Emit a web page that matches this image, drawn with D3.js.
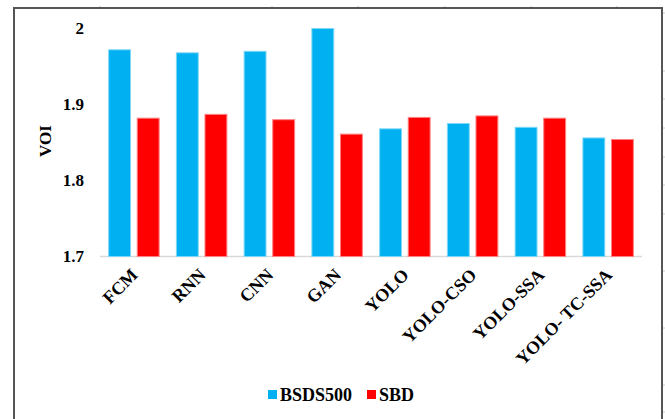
<!DOCTYPE html>
<html>
<head>
<meta charset="utf-8">
<script src="https://cdn.jsdelivr.net/npm/d3@7"></script>
<style>
  html, body { margin: 0; padding: 0; background: #fff; }
  svg { display: block; }
  text { font-family: "Liberation Serif", serif; font-weight: bold; fill: #000; }
</style>
</head>
<body>
<svg id="chart" width="665" height="419"></svg>
<script>
// VOI scores per segmentation method on two datasets
const methods = ["FCM", "RNN", "CNN", "GAN", "YOLO", "YOLO-CSO", "YOLO-SSA", "YOLO- TC-SSA"];
const seriesNames = ["BSDS500", "SBD"];
const bsds500 = [1.972, 1.968, 1.970, 2.000, 1.868, 1.875, 1.870, 1.856];
const sbd     = [1.882, 1.887, 1.880, 1.861, 1.883, 1.885, 1.882, 1.854];
const yTicks  = [1.7, 1.8, 1.9, 2];

const fills   = { "BSDS500": "#00B0F0", "SBD": "#FF0000" };
const strokes = { "BSDS500": "#7FD7F7", "SBD": "#FF8080" };

const svg = d3.select("#chart");

// outer frame (left, top, right edges)
svg.append("path")
  .attr("d", "M14,419 L14,8 L662,8 L662,419")
  .attr("fill", "none")
  .attr("stroke", "#555")
  .attr("stroke-width", 2);

// faint marks along the outside edges
[100, 272, 358, 445, 531, 617].forEach(x => {
  svg.append("line").attr("x1", x).attr("x2", x).attr("y1", 6).attr("y2", 7)
    .attr("stroke", "#bbb").attr("stroke-width", 1);
});
[13, 71, 99, 128, 157, 185, 214, 271, 328, 385, 412].forEach(y => {
  svg.append("line").attr("x1", 663).attr("x2", 665).attr("y1", y).attr("y2", y)
    .attr("stroke", "#ccc").attr("stroke-width", 1);
});

const x0 = d3.scaleBand().domain(methods).range([100, 642]).paddingInner(0.24).paddingOuter(0.12);
const x1 = d3.scaleBand().domain(seriesNames).range([0, x0.bandwidth()]).paddingInner(0.2);
const y = d3.scaleLinear().domain([1.7, 2.0]).range([256.5, 28.5]);

// baseline
svg.append("line")
  .attr("x1", 100).attr("x2", 642)
  .attr("y1", y(1.7)).attr("y2", y(1.7))
  .attr("stroke", "#d9d9d9").attr("stroke-width", 1.5);

// y-axis tick labels
const yAxis = d3.axisLeft(y).tickValues(yTicks).tickSize(0).tickPadding(0)
  .tickFormat(d => d3.format("")(d));
const gy = svg.append("g").attr("transform", "translate(84,0)").call(yAxis);
gy.select(".domain").remove();
gy.selectAll("text")
  .attr("font-size", 17)
  .attr("font-family", "Liberation Serif, serif")
  .attr("font-weight", "bold")
  .attr("fill", "#000");

// y-axis title
svg.append("text")
  .attr("transform", "translate(51,141) rotate(-90)")
  .attr("text-anchor", "middle")
  .attr("font-size", 17)
  .text("VOI");

// bars
const rows = methods.map((m, i) => ({ method: m, values: [
  { key: "BSDS500", value: bsds500[i] },
  { key: "SBD", value: sbd[i] }
]}));

const groups = svg.append("g").selectAll("g").data(rows).join("g")
  .attr("transform", d => `translate(${x0(d.method)},0)`);

groups.selectAll("rect").data(d => d.values).join("rect")
  .attr("x", d => x1(d.key) + 0.5)
  .attr("width", x1.bandwidth() - 1)
  .attr("y", d => y(d.value))
  .attr("height", d => y(1.7) - y(d.value))
  .attr("fill", d => fills[d.key])
  .attr("stroke", d => strokes[d.key])
  .attr("stroke-width", 1);

// category labels, rotated
svg.append("g").selectAll("text").data(methods).join("text")
  .attr("transform", d => `translate(${x0(d) + x0.bandwidth() / 2 + 5},276) rotate(-45)`)
  .attr("text-anchor", "end")
  .attr("font-size", 18)
  .text(d => d);

// legend
const legend = svg.append("g");
const legendItems = [
  { key: "BSDS500", x: 268 },
  { key: "SBD", x: 367 }
];
legendItems.forEach(it => {
  legend.append("rect")
    .attr("x", it.x).attr("y", 390).attr("width", 9).attr("height", 9)
    .attr("fill", fills[it.key]);
  legend.append("text")
    .attr("x", it.x + 12).attr("y", 401)
    .attr("font-size", 18)
    .text(it.key);
});
</script>
</body>
</html>
